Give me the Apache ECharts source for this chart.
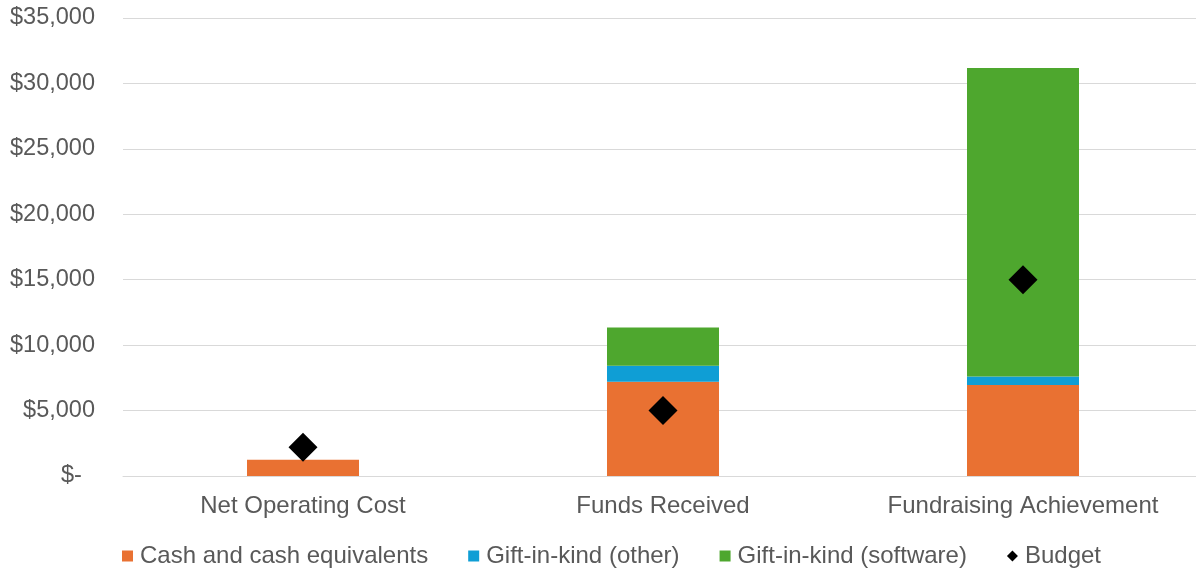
<!DOCTYPE html>
<html>
<head>
<meta charset="utf-8">
<script src="https://cdn.jsdelivr.net/npm/echarts@6/dist/echarts.min.js"></script>
<style>
html,body{margin:0;padding:0;background:#fff;overflow:hidden;}
#chart{width:1204px;height:571px;}
</style>
</head>
<body>
<div id="chart"></div>
<script>
const categories = ['Net Operating Cost', 'Funds Received', 'Fundraising Achievement'];
const cashValues = [1250, 7200, 6950];
const giftOtherValues = [0, 1220, 660];
const giftSoftwareValues = [0, 2930, 23560];
const budgetValues = [2200, 5000, 15000];
const yTicks = [0, 5000, 10000, 15000, 20000, 25000, 30000, 35000];

const textColor = '#595959';
const font = 'Liberation Sans, Arial, sans-serif';

const chart = echarts.init(document.getElementById('chart'), null, {renderer: 'canvas'});
chart.setOption({
  animation: false,
  grid: {left: 123, right: 1, top: 18, bottom: 95, containLabel: false},
  legend: {
    left: 117, bottom: -2,
    itemWidth: 11, itemHeight: 11, itemGap: 40,
    textStyle: {color: textColor, fontSize: 24, fontFamily: font, padding: [0, 0, 0, 2]},
    data: [
      {name: 'Cash and cash equivalents', icon: 'rect'},
      {name: 'Gift-in-kind (other)', icon: 'rect'},
      {name: 'Gift-in-kind (software)', icon: 'rect'},
      {name: 'Budget', icon: 'diamond', itemStyle: {color: '#000', opacity: 1}}
    ]
  },
  xAxis: {
    type: 'category',
    data: categories,
    axisLine: {show: true, lineStyle: {color: '#d9d9d9'}},
    axisTick: {show: false},
    axisLabel: {color: textColor, fontSize: 24, fontFamily: font, margin: 18}
  },
  yAxis: {
    type: 'value',
    min: yTicks[0], max: yTicks[yTicks.length - 1], interval: 5000,
    axisLine: {show: false},
    axisTick: {show: false},
    splitLine: {lineStyle: {color: '#d9d9d9', width: 1}},
    axisLabel: {
      color: textColor, fontSize: 23.5, fontFamily: font, margin: 28,
      formatter: v => v === 0 ? '$-  ' : '$' + v.toLocaleString('en-US')
    }
  },
  series: [
    {name: 'Cash and cash equivalents', type: 'bar', stack: 'total', data: cashValues, barWidth: 112, itemStyle: {color: '#E97132'}},
    {name: 'Gift-in-kind (other)', type: 'bar', stack: 'total', data: giftOtherValues, barWidth: 112, itemStyle: {color: '#0F9ED5'}},
    {name: 'Gift-in-kind (software)', type: 'bar', stack: 'total', data: giftSoftwareValues, barWidth: 112, itemStyle: {color: '#4EA72E'}},
    {name: 'Budget', type: 'scatter', data: budgetValues, symbol: 'diamond', symbolSize: 29, itemStyle: {color: '#000', opacity: 1}, z: 5}
  ]
});
</script>
</body>
</html>
